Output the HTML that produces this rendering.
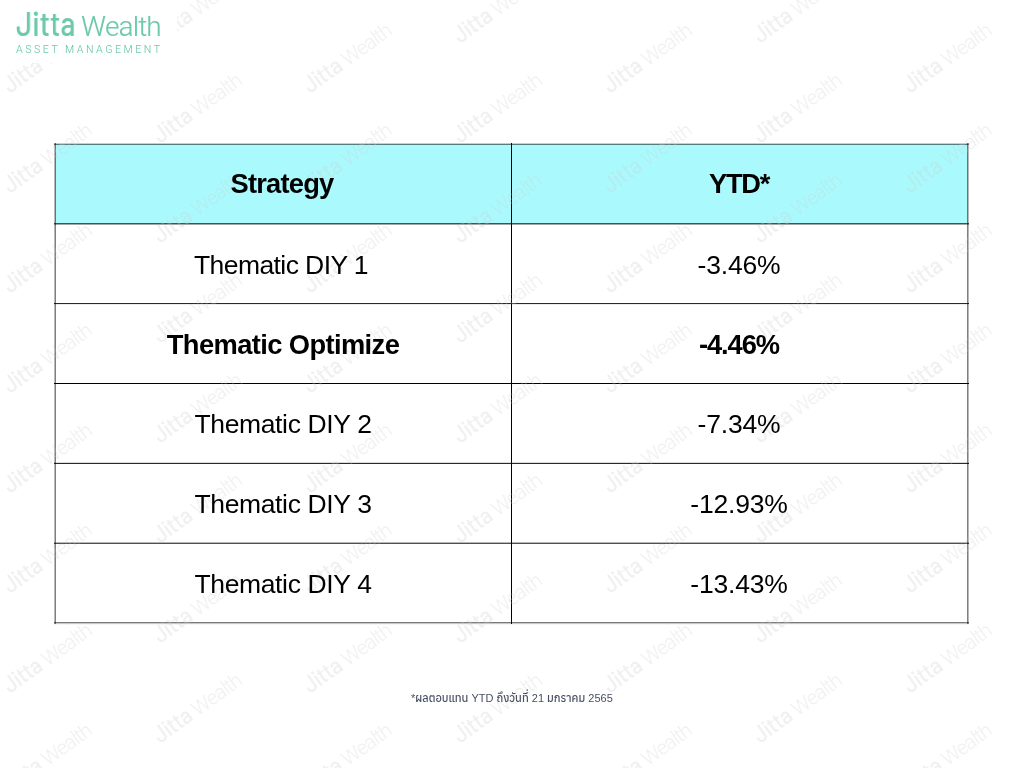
<!DOCTYPE html>
<html><head><meta charset="utf-8">
<style>
html,body{margin:0;padding:0;background:#fff;}
body{width:1024px;height:768px;overflow:hidden;position:relative;font-family:"Liberation Sans",Arial,sans-serif;-webkit-font-smoothing:antialiased;}
.cell,#foot,#logo1,#logo2,#logo3{will-change:transform;}
.abs{position:absolute;}
.hl{position:absolute;height:1px;left:54px;width:915px;}
.vl{position:absolute;width:1px;top:143px;height:481px;}
.cell{position:absolute;text-align:center;white-space:nowrap;color:#000;font-size:26.5px;line-height:30px;}
.c1{left:55px;width:456px;}
.c2{left:512px;width:456px;}
.b{font-weight:bold;font-size:27.3px;}
.r{letter-spacing:-0.58px;margin-left:-2px;}
.n{letter-spacing:-0.2px;margin-left:-1.2px;}
#logo1{left:16px;top:2px;transform:scaleX(0.9);transform-origin:0 0;color:#6ccaa9;font-family:"Barlow Semi Condensed","Dosis","Liberation Sans",sans-serif;font-size:35.5px;font-weight:500;line-height:40px;letter-spacing:0px;white-space:nowrap;}
#logo2{left:81px;top:8px;color:#6ccaa9;font-family:"Heebo","Liberation Sans",sans-serif;font-size:28px;font-weight:300;line-height:40px;letter-spacing:-1px;white-space:nowrap;}
#logo3{left:16px;top:42px;color:#6ccaa9;font-family:"Heebo","Liberation Sans",sans-serif;font-weight:350;font-size:10.6px;letter-spacing:2.5px;white-space:nowrap;}
#foot{left:411px;top:691px;font-size:11px;font-weight:500;color:#465062;font-family:"Liberation Sans","Anuphan","Kanit",sans-serif;white-space:nowrap;}
#wm{position:absolute;left:0;top:0;width:1024px;height:768px;pointer-events:none;}
.wj{font-family:"Barlow Semi Condensed","Dosis","Liberation Sans",sans-serif;font-weight:500;font-size:24px;letter-spacing:-0.5px;}
.ww{font-family:"Heebo","Liberation Sans",sans-serif;font-weight:270;font-size:20.5px;letter-spacing:-1.1px;}
</style></head><body>

<!-- table -->
<div class="abs" style="left:55px;top:144px;width:913px;height:80px;background:#aafafd;"></div>
<div class="hl" style="top:143px;background:rgba(0,0,0,0.2);"></div>
<div class="hl" style="top:144px;background:rgba(0,0,0,0.5);"></div>
<div class="hl" style="top:223px;background:rgba(0,0,0,0.66);"></div>
<div class="hl" style="top:224px;background:rgba(0,0,0,0.35);"></div>
<div class="hl" style="top:303px;background:rgba(0,0,0,0.84);"></div>
<div class="hl" style="top:304px;background:rgba(0,0,0,0.07);"></div>
<div class="hl" style="top:383px;background:rgba(0,0,0,1.0);"></div>
<div class="hl" style="top:462px;background:rgba(0,0,0,0.14);"></div>
<div class="hl" style="top:463px;background:rgba(0,0,0,0.84);"></div>
<div class="hl" style="top:542px;background:rgba(0,0,0,0.28);"></div>
<div class="hl" style="top:543px;background:rgba(0,0,0,0.69);"></div>
<div class="hl" style="top:622px;background:rgba(0,0,0,0.52);"></div>
<div class="hl" style="top:623px;background:rgba(0,0,0,0.22);"></div>
<div class="hl" style="top:624px;background:rgba(0,0,0,0.035);"></div>
<div class="vl" style="left:54px;background:rgba(0,0,0,0.27);"></div>
<div class="vl" style="left:55px;background:rgba(0,0,0,0.5);"></div>
<div class="vl" style="left:511px;background:rgba(0,0,0,1.0);"></div>
<div class="vl" style="left:967px;background:rgba(0,0,0,0.5);"></div>
<div class="vl" style="left:968px;background:rgba(0,0,0,0.28);"></div>



<!--WM--><svg id="wm" width="1024" height="768" viewBox="0 0 1024 768"><g fill="#cdcdcd" fill-opacity="0.28"><text transform="translate(10 -6) rotate(-36)"><tspan class="wj">Jitta</tspan><tspan class="ww" dx="4.5">Wealth</tspan></text>
<text transform="translate(310 -6) rotate(-36)"><tspan class="wj">Jitta</tspan><tspan class="ww" dx="4.5">Wealth</tspan></text>
<text transform="translate(610 -6) rotate(-36)"><tspan class="wj">Jitta</tspan><tspan class="ww" dx="4.5">Wealth</tspan></text>
<text transform="translate(910 -6) rotate(-36)"><tspan class="wj">Jitta</tspan><tspan class="ww" dx="4.5">Wealth</tspan></text>
<text transform="translate(160 44) rotate(-36)"><tspan class="wj">Jitta</tspan><tspan class="ww" dx="4.5">Wealth</tspan></text>
<text transform="translate(460 44) rotate(-36)"><tspan class="wj">Jitta</tspan><tspan class="ww" dx="4.5">Wealth</tspan></text>
<text transform="translate(760 44) rotate(-36)"><tspan class="wj">Jitta</tspan><tspan class="ww" dx="4.5">Wealth</tspan></text>
<text transform="translate(10 94) rotate(-36)"><tspan class="wj">Jitta</tspan><tspan class="ww" dx="4.5">Wealth</tspan></text>
<text transform="translate(310 94) rotate(-36)"><tspan class="wj">Jitta</tspan><tspan class="ww" dx="4.5">Wealth</tspan></text>
<text transform="translate(610 94) rotate(-36)"><tspan class="wj">Jitta</tspan><tspan class="ww" dx="4.5">Wealth</tspan></text>
<text transform="translate(910 94) rotate(-36)"><tspan class="wj">Jitta</tspan><tspan class="ww" dx="4.5">Wealth</tspan></text>
<text transform="translate(160 144) rotate(-36)"><tspan class="wj">Jitta</tspan><tspan class="ww" dx="4.5">Wealth</tspan></text>
<text transform="translate(460 144) rotate(-36)"><tspan class="wj">Jitta</tspan><tspan class="ww" dx="4.5">Wealth</tspan></text>
<text transform="translate(760 144) rotate(-36)"><tspan class="wj">Jitta</tspan><tspan class="ww" dx="4.5">Wealth</tspan></text>
<text transform="translate(10 194) rotate(-36)"><tspan class="wj">Jitta</tspan><tspan class="ww" dx="4.5">Wealth</tspan></text>
<text transform="translate(310 194) rotate(-36)"><tspan class="wj">Jitta</tspan><tspan class="ww" dx="4.5">Wealth</tspan></text>
<text transform="translate(610 194) rotate(-36)"><tspan class="wj">Jitta</tspan><tspan class="ww" dx="4.5">Wealth</tspan></text>
<text transform="translate(910 194) rotate(-36)"><tspan class="wj">Jitta</tspan><tspan class="ww" dx="4.5">Wealth</tspan></text>
<text transform="translate(160 244) rotate(-36)"><tspan class="wj">Jitta</tspan><tspan class="ww" dx="4.5">Wealth</tspan></text>
<text transform="translate(460 244) rotate(-36)"><tspan class="wj">Jitta</tspan><tspan class="ww" dx="4.5">Wealth</tspan></text>
<text transform="translate(760 244) rotate(-36)"><tspan class="wj">Jitta</tspan><tspan class="ww" dx="4.5">Wealth</tspan></text>
<text transform="translate(10 294) rotate(-36)"><tspan class="wj">Jitta</tspan><tspan class="ww" dx="4.5">Wealth</tspan></text>
<text transform="translate(310 294) rotate(-36)"><tspan class="wj">Jitta</tspan><tspan class="ww" dx="4.5">Wealth</tspan></text>
<text transform="translate(610 294) rotate(-36)"><tspan class="wj">Jitta</tspan><tspan class="ww" dx="4.5">Wealth</tspan></text>
<text transform="translate(910 294) rotate(-36)"><tspan class="wj">Jitta</tspan><tspan class="ww" dx="4.5">Wealth</tspan></text>
<text transform="translate(160 344) rotate(-36)"><tspan class="wj">Jitta</tspan><tspan class="ww" dx="4.5">Wealth</tspan></text>
<text transform="translate(460 344) rotate(-36)"><tspan class="wj">Jitta</tspan><tspan class="ww" dx="4.5">Wealth</tspan></text>
<text transform="translate(760 344) rotate(-36)"><tspan class="wj">Jitta</tspan><tspan class="ww" dx="4.5">Wealth</tspan></text>
<text transform="translate(10 394) rotate(-36)"><tspan class="wj">Jitta</tspan><tspan class="ww" dx="4.5">Wealth</tspan></text>
<text transform="translate(310 394) rotate(-36)"><tspan class="wj">Jitta</tspan><tspan class="ww" dx="4.5">Wealth</tspan></text>
<text transform="translate(610 394) rotate(-36)"><tspan class="wj">Jitta</tspan><tspan class="ww" dx="4.5">Wealth</tspan></text>
<text transform="translate(910 394) rotate(-36)"><tspan class="wj">Jitta</tspan><tspan class="ww" dx="4.5">Wealth</tspan></text>
<text transform="translate(160 444) rotate(-36)"><tspan class="wj">Jitta</tspan><tspan class="ww" dx="4.5">Wealth</tspan></text>
<text transform="translate(460 444) rotate(-36)"><tspan class="wj">Jitta</tspan><tspan class="ww" dx="4.5">Wealth</tspan></text>
<text transform="translate(760 444) rotate(-36)"><tspan class="wj">Jitta</tspan><tspan class="ww" dx="4.5">Wealth</tspan></text>
<text transform="translate(10 494) rotate(-36)"><tspan class="wj">Jitta</tspan><tspan class="ww" dx="4.5">Wealth</tspan></text>
<text transform="translate(310 494) rotate(-36)"><tspan class="wj">Jitta</tspan><tspan class="ww" dx="4.5">Wealth</tspan></text>
<text transform="translate(610 494) rotate(-36)"><tspan class="wj">Jitta</tspan><tspan class="ww" dx="4.5">Wealth</tspan></text>
<text transform="translate(910 494) rotate(-36)"><tspan class="wj">Jitta</tspan><tspan class="ww" dx="4.5">Wealth</tspan></text>
<text transform="translate(160 544) rotate(-36)"><tspan class="wj">Jitta</tspan><tspan class="ww" dx="4.5">Wealth</tspan></text>
<text transform="translate(460 544) rotate(-36)"><tspan class="wj">Jitta</tspan><tspan class="ww" dx="4.5">Wealth</tspan></text>
<text transform="translate(760 544) rotate(-36)"><tspan class="wj">Jitta</tspan><tspan class="ww" dx="4.5">Wealth</tspan></text>
<text transform="translate(10 594) rotate(-36)"><tspan class="wj">Jitta</tspan><tspan class="ww" dx="4.5">Wealth</tspan></text>
<text transform="translate(310 594) rotate(-36)"><tspan class="wj">Jitta</tspan><tspan class="ww" dx="4.5">Wealth</tspan></text>
<text transform="translate(610 594) rotate(-36)"><tspan class="wj">Jitta</tspan><tspan class="ww" dx="4.5">Wealth</tspan></text>
<text transform="translate(910 594) rotate(-36)"><tspan class="wj">Jitta</tspan><tspan class="ww" dx="4.5">Wealth</tspan></text>
<text transform="translate(160 644) rotate(-36)"><tspan class="wj">Jitta</tspan><tspan class="ww" dx="4.5">Wealth</tspan></text>
<text transform="translate(460 644) rotate(-36)"><tspan class="wj">Jitta</tspan><tspan class="ww" dx="4.5">Wealth</tspan></text>
<text transform="translate(760 644) rotate(-36)"><tspan class="wj">Jitta</tspan><tspan class="ww" dx="4.5">Wealth</tspan></text>
<text transform="translate(10 694) rotate(-36)"><tspan class="wj">Jitta</tspan><tspan class="ww" dx="4.5">Wealth</tspan></text>
<text transform="translate(310 694) rotate(-36)"><tspan class="wj">Jitta</tspan><tspan class="ww" dx="4.5">Wealth</tspan></text>
<text transform="translate(610 694) rotate(-36)"><tspan class="wj">Jitta</tspan><tspan class="ww" dx="4.5">Wealth</tspan></text>
<text transform="translate(910 694) rotate(-36)"><tspan class="wj">Jitta</tspan><tspan class="ww" dx="4.5">Wealth</tspan></text>
<text transform="translate(160 744) rotate(-36)"><tspan class="wj">Jitta</tspan><tspan class="ww" dx="4.5">Wealth</tspan></text>
<text transform="translate(460 744) rotate(-36)"><tspan class="wj">Jitta</tspan><tspan class="ww" dx="4.5">Wealth</tspan></text>
<text transform="translate(760 744) rotate(-36)"><tspan class="wj">Jitta</tspan><tspan class="ww" dx="4.5">Wealth</tspan></text>
<text transform="translate(10 794) rotate(-36)"><tspan class="wj">Jitta</tspan><tspan class="ww" dx="4.5">Wealth</tspan></text>
<text transform="translate(310 794) rotate(-36)"><tspan class="wj">Jitta</tspan><tspan class="ww" dx="4.5">Wealth</tspan></text>
<text transform="translate(610 794) rotate(-36)"><tspan class="wj">Jitta</tspan><tspan class="ww" dx="4.5">Wealth</tspan></text>
<text transform="translate(910 794) rotate(-36)"><tspan class="wj">Jitta</tspan><tspan class="ww" dx="4.5">Wealth</tspan></text></g></svg>

<div class="cell c1 r" style="top:250px;">Thematic DIY 1</div>
<div class="cell c2 n" style="top:250px;">-3.46%</div>
<div class="cell c1 b" style="top:330px;letter-spacing:-0.6px;">Thematic Optimize</div>
<div class="cell c2 b n" style="top:330px;letter-spacing:-1.1px;">-4.46%</div>
<div class="cell c1 r" style="top:409px;letter-spacing:-0.36px;margin-left:0px;">Thematic DIY 2</div>
<div class="cell c2 n" style="top:409px;">-7.34%</div>
<div class="cell c1 r" style="top:489px;letter-spacing:-0.36px;margin-left:0px;">Thematic DIY 3</div>
<div class="cell c2 n" style="top:489px;">-12.93%</div>
<div class="cell c1 r" style="top:569px;letter-spacing:-0.36px;margin-left:0px;">Thematic DIY 4</div>
<div class="cell c2 n" style="top:569px;">-13.43%</div>
<div class="cell c1 b" style="top:169px;letter-spacing:-0.8px;margin-left:-1.3px;">Strategy</div>
<div class="cell c2 b" style="top:169px;letter-spacing:-1.3px;margin-left:-1px;">YTD*</div>
<div class="abs" id="foot">*ผลตอบแทน YTD ถึงวันที่ 21 มกราคม 2565</div>
<div class="abs" id="logobox" style="left:0;top:0;width:177px;height:63px;background:#fff;"></div>
<div class="abs" id="logo1">Jitta</div>
<div class="abs" id="logo2">Wealth</div>
<div class="abs" id="logo3">ASSET MANAGEMENT</div>
</body></html>
